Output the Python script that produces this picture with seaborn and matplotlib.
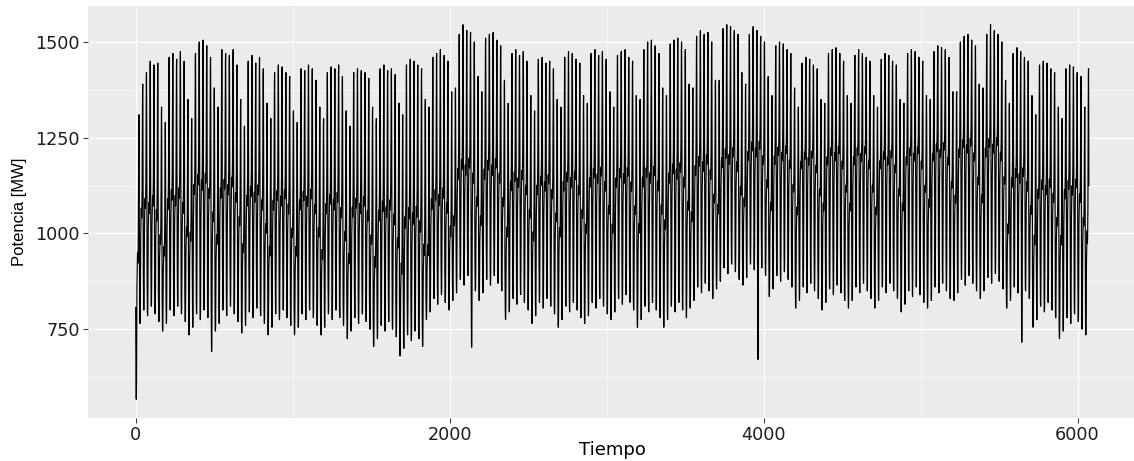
import numpy as np
import pandas as pd
import matplotlib
matplotlib.use("Agg")
import matplotlib.pyplot as plt
import seaborn as sns
from matplotlib.ticker import MultipleLocator

# Daily evening peak in MW, one row per week (Sunday .. Saturday)
day_peak = [
    1310, 1390, 1420, 1450, 1440, 1445, 1330,
    1290, 1460, 1470, 1455, 1475, 1450, 1350,
    1300, 1470, 1500, 1505, 1490, 1460, 1380,
    1330, 1480, 1470, 1465, 1480, 1440, 1350,
    1280, 1450, 1465, 1445, 1460, 1430, 1340,
    1300, 1420, 1440, 1435, 1420, 1410, 1320,
    1290, 1430, 1425, 1440, 1430, 1400, 1330,
    1300, 1420, 1435, 1430, 1440, 1410, 1320,
    1280, 1420, 1430, 1425, 1420, 1405, 1330,
    1300, 1430, 1440, 1425, 1430, 1415, 1340,
    1310, 1440, 1455, 1450, 1440, 1430, 1350,
    1330, 1460, 1470, 1480, 1465, 1450, 1370,
    1380, 1520, 1545, 1530, 1525, 1500, 1410,
    1370, 1510, 1520, 1525, 1505, 1490, 1400,
    1340, 1470, 1480, 1465, 1475, 1450, 1360,
    1320, 1455, 1460, 1445, 1450, 1430, 1350,
    1330, 1460, 1475, 1470, 1455, 1445, 1360,
    1340, 1470, 1480, 1465, 1475, 1455, 1370,
    1330, 1465, 1475, 1480, 1460, 1450, 1360,
    1350, 1480, 1500, 1505, 1490, 1470, 1380,
    1360, 1495, 1505, 1510, 1500, 1480, 1390,
    1380, 1515, 1530, 1520, 1525, 1500, 1400,
    1400, 1535, 1545, 1540, 1530, 1520, 1420,
    1390, 1520, 1540, 1530, 1515, 1500, 1410,
    1360, 1490, 1500, 1495, 1480, 1470, 1380,
    1330, 1445, 1460, 1455, 1440, 1430, 1350,
    1340, 1470, 1480, 1485, 1470, 1450, 1360,
    1340, 1465, 1480, 1470, 1460, 1450, 1360,
    1330, 1455, 1470, 1465, 1450, 1440, 1350,
    1340, 1470, 1480, 1475, 1460, 1450, 1360,
    1350, 1475, 1490, 1485, 1480, 1460, 1370,
    1370, 1500, 1515, 1520, 1505, 1490, 1390,
    1380, 1520, 1545, 1530, 1520, 1500, 1400,
    1340, 1470, 1485, 1475, 1460, 1450, 1360,
    1310, 1440, 1450, 1445, 1430, 1420, 1330,
    1300, 1430, 1440, 1435, 1420, 1410, 1330,
    1430,
]

# Weekly midday plateau and night trough in MW
week_mid = [1040, 1060, 1100, 1090, 1070, 1060, 1060, 1050, 1040, 1030,
            1010, 1060, 1140, 1140, 1110, 1100, 1110, 1120, 1120, 1120,
            1130, 1150, 1170, 1190, 1180, 1170, 1180, 1180, 1170, 1180,
            1190, 1200, 1200, 1120, 1090, 1090, 1090]
week_trough = [790, 790, 780, 790, 785, 780, 780, 780, 770, 750,
               725, 820, 870, 870, 820, 810, 800, 810, 820, 800,
               800, 850, 900, 910, 880, 850, 845, 850, 850, 840,
               850, 870, 875, 850, 800, 770, 780]

# Day-of-week adjustments in MW (Sunday .. Saturday)
dow_mid = [-130, -10, 15, 0, 20, -20, -80]
dow_trough = [-45, -25, 10, -5, 20, 0, -20]

# Hourly shape of a day: -1 night trough, 0 midday plateau, +1 evening peak
hour_shape = [-0.30, -0.60, -0.85, -0.97, -1.00, -0.95, -0.75, -0.40,
              -0.15, -0.05, 0.02, 0.08, 0.10, 0.05, 0.03, 0.06,
              0.12, 0.22, 0.40, 0.70, 0.95, 1.00, 0.78, 0.35]

# Days with an unusually deep night trough (holidays)
low_days = [0, 20, 89, 165, 235]
low_values = [567, 692, 703, 671, 716]

# Build the hourly series
values = []
for d, peak in enumerate(day_peak):
    w, dw = d // 7, d % 7
    mid = week_mid[w] + dow_mid[dw]
    trough = week_trough[w] + dow_trough[dw]
    if d in low_days:
        trough = low_values[low_days.index(d)]
    for s in hour_shape:
        if s >= 0:
            values.append(mid + s * (peak - mid))
        else:
            values.append(mid + s * (mid - trough))

df = pd.DataFrame({"Tiempo": np.arange(1, len(values) + 1),
                   "Potencia": values})

sns.set_theme(style="darkgrid", rc={
    "axes.facecolor": "#EBEBEB",
    "grid.color": "white",
    "axes.edgecolor": "#EBEBEB",
    "xtick.bottom": True,
    "ytick.left": True,
})
plt.rcParams["font.family"] = ["DejaVu Sans"]

W, H = 1134, 461
fig = plt.figure(figsize=(W / 100, H / 100), dpi=100)
fig.patch.set_facecolor("white")
left, right, top, bottom = 88, 1136.5, 6, 418
ax = fig.add_axes([left / W, (H - bottom) / H, (right - left) / W, (bottom - top) / H])

sns.lineplot(data=df, x="Tiempo", y="Potencia", color="black",
             linewidth=0.85, estimator=None, ax=ax)

# ggplot-like 5% expansion of the data range
x0, x1 = df["Tiempo"].min(), df["Tiempo"].max()
y0, y1 = df["Potencia"].min(), df["Potencia"].max()
ax.set_xlim(x0 - 0.05 * (x1 - x0), x1 + 0.05 * (x1 - x0))
ax.set_ylim(y0 - 0.05 * (y1 - y0), y1 + 0.05 * (y1 - y0))

ax.xaxis.set_major_locator(MultipleLocator(2000))
ax.xaxis.set_minor_locator(MultipleLocator(1000))
ax.yaxis.set_major_locator(MultipleLocator(250))
ax.yaxis.set_minor_locator(MultipleLocator(125))
ax.grid(which="major", color="white", linewidth=0.9)
ax.grid(which="minor", color="white", linewidth=0.45)
ax.set_axisbelow(True)
for sp in ax.spines.values():
    sp.set_visible(False)

ax.tick_params(axis="both", which="major", length=3.6, width=0.75,
               color="#333333", labelcolor="#1e1e1e", labelsize=12.7, pad=2.5)
ax.tick_params(axis="both", which="minor", length=0)

ax.set_xlabel("Tiempo", fontsize=13, color="black", labelpad=-2.5)
ax.set_ylabel("Potencia [MW]", fontsize=12, color="black",
              family="Liberation Sans", labelpad=6)

fig.savefig("out.png", dpi=100, facecolor="white")
